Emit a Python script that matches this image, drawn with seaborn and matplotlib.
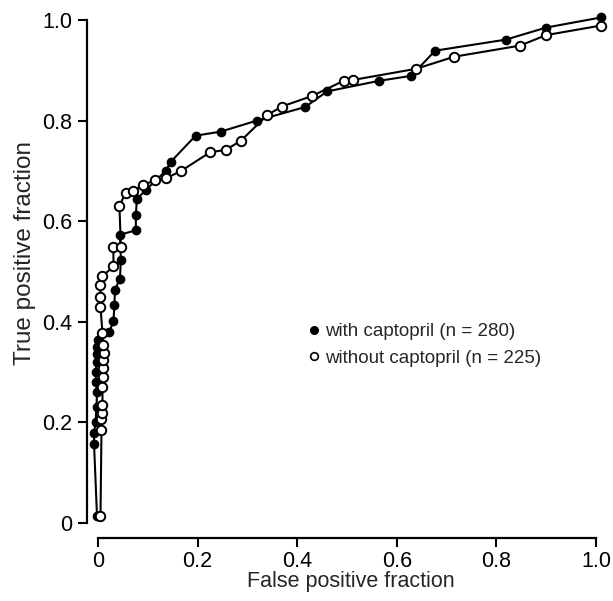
import matplotlib
matplotlib.use("Agg")
import matplotlib.pyplot as plt
from matplotlib.lines import Line2D
import seaborn as sns

# ROC curve, renography with captopril
fpr_with = [-0.002, -0.008, -0.008, -0.005, -0.003, -0.002, -0.004, -0.004, -0.003,
            -0.002, -0.003, 0.001, 0.023, 0.031, 0.033, 0.034, 0.044, 0.046, 0.044,
            0.076, 0.076, 0.078, 0.096, 0.136, 0.146, 0.196, 0.246, 0.319, 0.416,
            0.460, 0.564, 0.629, 0.677, 0.819, 0.900, 1.010]
tpr_with = [0.014, 0.158, 0.178, 0.200, 0.231, 0.260, 0.280, 0.300, 0.320,
            0.335, 0.350, 0.364, 0.380, 0.402, 0.433, 0.463, 0.486, 0.523, 0.573,
            0.582, 0.612, 0.644, 0.662, 0.700, 0.718, 0.770, 0.778, 0.800, 0.827,
            0.858, 0.879, 0.889, 0.939, 0.961, 0.985, 1.005]

# ROC curve, renography without captopril
fpr_without = [0.005, 0.007, 0.007, 0.009, 0.009, 0.009, 0.011, 0.011, 0.011,
               0.012, 0.011, 0.009, 0.005, 0.005, 0.005, 0.009, 0.031, 0.031,
               0.046, 0.043, 0.056, 0.071, 0.090, 0.114, 0.136, 0.167, 0.225,
               0.257, 0.287, 0.340, 0.369, 0.430, 0.493, 0.513, 0.639, 0.715,
               0.847, 0.900, 1.010]
tpr_without = [0.014, 0.185, 0.206, 0.218, 0.235, 0.270, 0.291, 0.308, 0.324,
               0.337, 0.354, 0.377, 0.430, 0.450, 0.473, 0.491, 0.510, 0.548,
               0.548, 0.631, 0.657, 0.660, 0.672, 0.681, 0.685, 0.700, 0.737,
               0.742, 0.760, 0.811, 0.828, 0.849, 0.879, 0.881, 0.903, 0.927,
               0.949, 0.970, 0.989]

label_with = "with captopril (n = 280)"
label_without = "without captopril (n = 225)"
tick_values = [0, 0.2, 0.4, 0.6, 0.8, 1.0]
tick_labels = ["0", "0.2", "0.4", "0.6", "0.8", "1.0"]

sns.set_style("ticks")
plt.rcParams["font.family"] = ["Liberation Sans", "DejaVu Sans"]

fig = plt.figure(figsize=(6.13, 6.01), dpi=100)
ax = fig.add_axes([98 / 613, 78 / 601, 498 / 613, 503 / 601])

sns.lineplot(x=fpr_with, y=tpr_with, sort=False, estimator=None, ax=ax,
             color="black", linewidth=1.5, marker="o", markersize=6,
             markerfacecolor="black", markeredgecolor="black",
             markeredgewidth=1.0)
sns.lineplot(x=fpr_without, y=tpr_without, sort=False, estimator=None, ax=ax,
             color="black", linewidth=1.5, marker="o", markersize=6.8,
             markerfacecolor="white", markeredgecolor="black",
             markeredgewidth=1.4)
for line in ax.lines:
    line.set_clip_on(False)

ax.set_xlim(0, 1)
ax.set_ylim(0, 1)
ax.set_xticks(tick_values, tick_labels)
ax.set_yticks(tick_values, tick_labels)
ax.tick_params(axis="both", direction="out", length=6.5, width=1.5,
               labelsize=15.5, color="black", labelcolor="black")
ax.tick_params(axis="x", pad=3)
ax.tick_params(axis="y", pad=4)

for side in ("top", "right"):
    ax.spines[side].set_visible(False)
ax.spines["left"].set_position(("outward", 8))
ax.spines["bottom"].set_position(("outward", 11))
for side in ("left", "bottom"):
    ax.spines[side].set_bounds(0, 1)
    ax.spines[side].set_linewidth(1.6)
    ax.spines[side].set_color("black")

ax.set_xlabel("False positive fraction", fontsize=15.5)
ax.set_ylabel("True positive fraction", fontsize=17.5)
ax.xaxis.set_label_coords(0.507, -0.096)
ax.yaxis.set_label_coords(-0.125, 0.537)

handles = [
    Line2D([], [], linestyle="none", marker="o", markersize=5.5,
           markerfacecolor="black", markeredgecolor="black"),
    Line2D([], [], linestyle="none", marker="o", markersize=5.5,
           markerfacecolor="white", markeredgecolor="black", markeredgewidth=1.2),
]
ax.legend(handles, [label_with, label_without], loc="upper left",
          bbox_to_anchor=(0.425, 0.397), frameon=False, fontsize=13.5,
          handlelength=0.5, handletextpad=0.3, borderpad=0, borderaxespad=0,
          labelspacing=0.5)

fig.savefig("out.png", dpi=100, facecolor="white")
